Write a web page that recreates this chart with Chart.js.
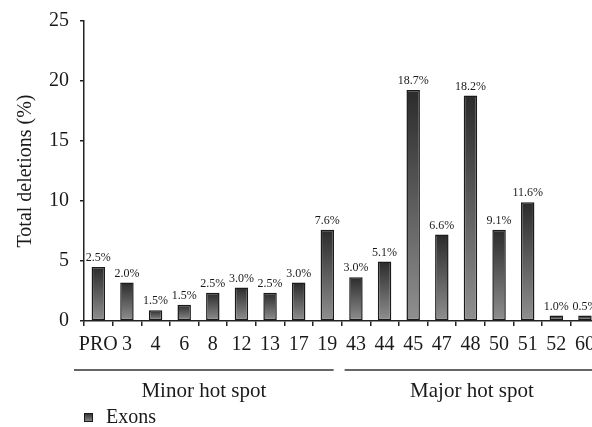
<!DOCTYPE html>
<html>
<head>
<meta charset="utf-8">
<script src="https://cdn.jsdelivr.net/npm/chart.js@4.4.0/dist/chart.umd.min.js"></script>
<style>
  html, body { margin: 0; padding: 0; background: #fff; overflow: hidden; }
  #wrap { width: 602px; height: 427px; }
</style>
</head>
<body>
<div id="wrap"><canvas id="grafico"></canvas></div>
<script>
// Exons (categories) and bar heights
const exons = ['PRO', '3', '4', '6', '8', '12', '13', '17', '19', '43', '44', '45', '47', '48', '50', '51', '52', '60'];
const totalDeletions = [4.5, 3.2, 0.9, 1.35, 2.35, 2.8, 2.35, 3.2, 7.6, 3.65, 4.95, 19.25, 7.2, 18.8, 7.6, 9.9, 0.45, 0.45];
// Percent labels printed above the bars
const percentLabels = ['2.5%', '2.0%', '1.5%', '1.5%', '2.5%', '3.0%', '2.5%', '3.0%', '7.6%', '3.0%', '5.1%', '18.7%', '6.6%', '18.2%', '9.1%', '11.6%', '1.0%', '0.5%'];
// Hot spot groups: first and last exon index of each group
const groupNames = ['Minor hot spot', 'Major hot spot'];
const groupStart = [0, 9];
const groupEnd = [8, 17];
const yTicks = [0, 5, 10, 15, 20, 25];

const serif = "'Liberation Serif', 'DejaVu Serif', serif";

function barGradient(ctx, top, bottom) {
    const g = ctx.createLinearGradient(0, top, 0, bottom);
    g.addColorStop(0, '#2b2b2b');
    g.addColorStop(1, '#909090');
    return g;
}

// Percent labels, hot spot brackets and the legend
const extras = {
    id: 'extras',
    afterDatasetsDraw(chart) {
        const ctx = chart.ctx;
        const meta = chart.getDatasetMeta(0);
        const x = chart.scales.x;
        const area = chart.chartArea;
        ctx.save();
        ctx.fillStyle = '#1a1a1a';
        ctx.font = '12px ' + serif;
        ctx.textAlign = 'center';
        ctx.textBaseline = 'bottom';
        meta.data.forEach((bar, i) => {
            ctx.fillText(percentLabels[i], bar.x, bar.y - 3);
        });

        // brackets under the tick labels
        const half = (x.getPixelForValue(1) - x.getPixelForValue(0)) / 2;
        const lineY = 370;
        ctx.strokeStyle = '#333';
        ctx.lineWidth = 1.5;
        ctx.font = '21px ' + serif;
        ctx.textBaseline = 'middle';
        groupNames.forEach((name, g) => {
            let x1 = x.getPixelForValue(groupStart[g]) - half + 3;
            let x2 = x.getPixelForValue(groupEnd[g]) + half - 8;
            if (g === 0) x1 = area.left - 10;
            if (g === groupNames.length - 1) x2 = chart.width;
            ctx.beginPath();
            ctx.moveTo(x1, lineY);
            ctx.lineTo(x2, lineY);
            ctx.stroke();
            const cx = g === groupNames.length - 1 ? (x1 + x.right) / 2 : (x1 + x2) / 2;
            ctx.fillText(name, cx, lineY + 21);
        });

        // legend
        const lx = area.left, ly = 413;
        ctx.fillStyle = barGradient(ctx, ly, ly + 9);
        ctx.fillRect(lx, ly, 9, 9);
        ctx.strokeStyle = '#1a1a1a';
        ctx.lineWidth = 1;
        ctx.strokeRect(lx + 0.5, ly + 0.5, 8, 8);
        ctx.fillStyle = '#1a1a1a';
        ctx.textAlign = 'left';
        ctx.font = '20px ' + serif;
        ctx.fillText(chart.data.datasets[0].label, lx + 22, ly + 5);
        ctx.restore();
    }
};

const ctx = document.getElementById('grafico').getContext('2d');
new Chart(ctx, {
    type: 'bar',
    data: {
        labels: exons,
        datasets: [{
            label: 'Exons',
            data: totalDeletions,
            backgroundColor: (c) => {
                const y = c.chart.scales.y;
                if (!y || c.raw === undefined) return '#555';
                const top = y.getPixelForValue(c.raw);
                const bottom = y.getPixelForValue(0);
                if (!Number.isFinite(top) || !Number.isFinite(bottom)) return '#555';
                return barGradient(c.chart.ctx, top, bottom);
            },
            borderColor: '#1a1a1a',
            borderWidth: 1.5,
            borderSkipped: false,
            barPercentage: 0.47,
            categoryPercentage: 1
        }]
    },
    options: {
        responsive: true,
        maintainAspectRatio: false,
        animation: false,
        layout: { padding: { top: 8, left: 2, right: 2, bottom: 0 } },
        plugins: {
            legend: { display: false },
            tooltip: { enabled: false }
        },
        scales: {
            x: {
                grid: { drawOnChartArea: false, drawTicks: true, tickLength: 5, color: '#222', lineWidth: 1.5, offset: true },
                border: { color: '#222', width: 1.5 },
                ticks: { font: { family: serif, size: 20 }, color: '#1a1a1a', padding: 7, maxRotation: 0, autoSkip: false },
                afterFit: (scale) => { scale.height = 106; }
            },
            y: {
                min: 0,
                max: 25,
                afterBuildTicks: (scale) => { scale.ticks = yTicks.map(v => ({ value: v })); },
                grid: { drawOnChartArea: false, drawTicks: true, tickLength: 4, color: '#222', lineWidth: 1.5 },
                border: { color: '#222', width: 1.5 },
                ticks: { font: { family: serif, size: 20, lineHeight: 1 }, color: '#1a1a1a', padding: 11 },
                title: {
                    display: true,
                    text: 'Total deletions (%)',
                    font: { family: serif, size: 20 },
                    color: '#1a1a1a',
                    padding: { top: 12, bottom: 0 }
                }
            }
        }
    },
    plugins: [extras]
});
</script>
</body>
</html>
